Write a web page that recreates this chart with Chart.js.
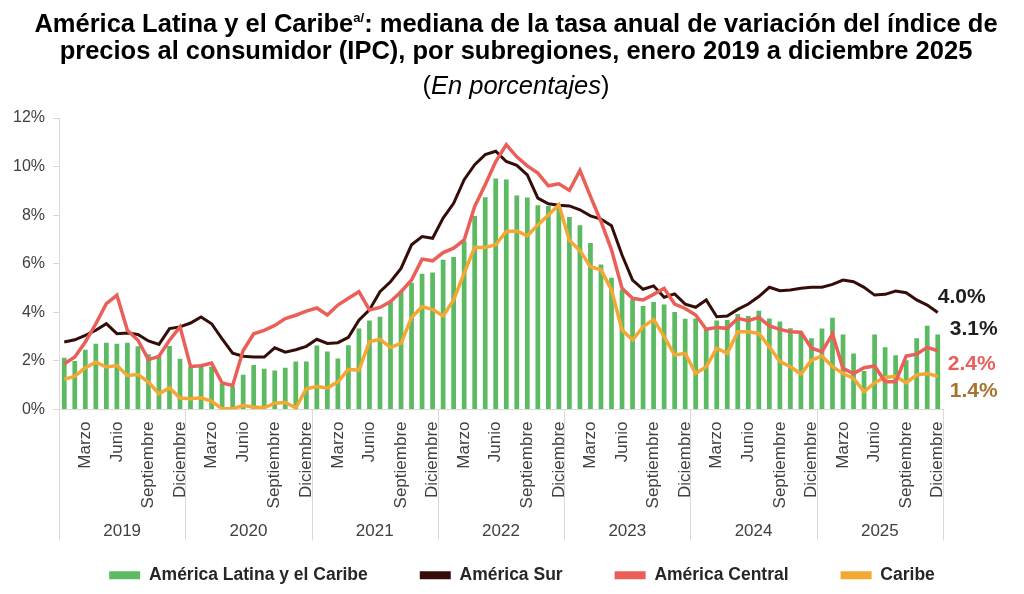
<!DOCTYPE html>
<html lang="es">
<head>
<meta charset="utf-8">
<title>IPC subregiones</title>
<script src="https://cdn.jsdelivr.net/npm/chart.js@4.4.1/dist/chart.umd.min.js"></script>
<style>
  html, body { margin:0; padding:0; background:#ffffff; }
  #wrap { position:relative; width:1024px; height:594px; overflow:hidden; font-family:"Liberation Sans", Arial, sans-serif; }
  #chart { position:absolute; left:0; top:0; }
  .t { position:absolute; left:4px; width:1024px; text-align:center; color:#000; font-size:25.5px; line-height:28px; white-space:nowrap; }
  .t1 { top:9px; font-weight:bold; }
  .t2 { top:36px; font-weight:bold; }
  .t3 { top:71px; color:#000; }
  sup { font-size:13px; line-height:0; vertical-align:0; position:relative; top:-10px; font-weight:bold; }
</style>
</head>
<body>
<div id="wrap">
  <canvas id="chart" width="1024" height="594"></canvas>
  <div class="t t1">América Latina y el Caribe<sup>a/</sup>: mediana de la tasa anual de variación del índice de</div>
  <div class="t t2">precios al consumidor (IPC), por subregiones, enero 2019 a diciembre 2025</div>
  <div class="t t3">(<i>En porcentajes</i>)</div>
</div>
<script>
// ---------- data ----------
const MONTHS = ['Enero','Febrero','Marzo','Abril','Mayo','Junio','Julio','Agosto','Septiembre','Octubre','Noviembre','Diciembre'];
const YEARS = ['2019','2020','2021','2022','2023','2024','2025'];
const TICK_MONTHS = ['Marzo','Junio','Septiembre','Diciembre'];
const Y_TICKS = [0, 2, 4, 6, 8, 10, 12];

const SERIES_NAMES = ['América Latina y el Caribe', 'América Sur', 'América Central', 'Caribe'];

const ALC = [
  2.13, 2.00, 2.46, 2.71, 2.75, 2.71, 2.75, 2.60, 2.27, 2.19, 2.61, 2.09,
  1.77, 1.83, 1.77, 1.06, 0.95, 1.43, 1.83, 1.68, 1.61, 1.72, 1.98, 1.98,
  2.63, 2.39, 2.10, 2.64, 3.33, 3.66, 3.82, 4.44, 4.89, 5.22, 5.59, 5.64,
  6.16, 6.28, 6.93, 7.97, 8.74, 9.51, 9.47, 8.81, 8.73, 8.41, 8.38, 8.43,
  7.92, 7.59, 6.85, 5.97, 5.42, 4.92, 4.54, 4.26, 4.43, 4.32, 4.01, 3.74,
  3.75, 3.30, 3.66, 3.68, 3.93, 3.85, 4.07, 3.75, 3.62, 3.34, 3.20, 2.93,
  3.33, 3.78, 3.09, 2.31, 1.59, 3.09, 2.56, 2.23, 2.03, 2.93, 3.45, 3.09
];
const SUR = [
  2.78, 2.87, 3.05, 3.26, 3.53, 3.12, 3.15, 3.09, 2.82, 2.68, 3.33, 3.40,
  3.56, 3.81, 3.53, 2.91, 2.32, 2.19, 2.16, 2.16, 2.54, 2.36, 2.46, 2.60,
  2.89, 2.72, 2.75, 2.97, 3.68, 4.10, 4.85, 5.26, 5.81, 6.78, 7.12, 7.05,
  7.88, 8.49, 9.46, 10.08, 10.49, 10.63, 10.21, 10.05, 9.66, 8.70, 8.47, 8.41,
  8.38, 8.22, 7.97, 7.84, 7.56, 6.36, 5.33, 4.95, 5.09, 4.62, 4.76, 4.34,
  4.21, 4.51, 3.82, 3.85, 4.12, 4.34, 4.65, 5.03, 4.89, 4.92, 4.99, 5.03,
  5.03, 5.15, 5.33, 5.26, 5.03, 4.71, 4.74, 4.88, 4.81, 4.51, 4.30, 3.99
];
const CENTRAL = [
  1.88, 2.16, 2.78, 3.53, 4.36, 4.70, 3.26, 2.85, 2.05, 2.19, 2.85, 3.40,
  1.77, 1.80, 1.91, 1.09, 0.99, 2.43, 3.12, 3.26, 3.46, 3.74, 3.88, 4.05,
  4.18, 3.89, 4.30, 4.58, 4.85, 4.10, 4.20, 4.44, 4.85, 5.33, 6.19, 6.12,
  6.46, 6.64, 6.98, 8.36, 9.25, 10.21, 10.90, 10.40, 10.03, 9.73, 9.21, 9.29,
  9.02, 9.84, 8.77, 7.74, 6.57, 4.99, 4.58, 4.51, 4.74, 4.99, 4.34, 4.16,
  3.89, 3.30, 3.38, 3.34, 3.75, 3.66, 3.79, 3.44, 3.30, 3.20, 3.18, 2.52,
  2.38, 3.11, 1.69, 1.48, 1.72, 1.79, 1.14, 1.14, 2.20, 2.28, 2.56, 2.42
];
const CARIBE = [
  1.25, 1.36, 1.72, 1.95, 1.75, 1.81, 1.40, 1.44, 1.13, 0.65, 0.89, 0.47,
  0.44, 0.48, 0.34, 0.03, 0.03, 0.16, 0.10, 0.07, 0.26, 0.29, 0.07, 0.85,
  0.95, 0.89, 1.14, 1.65, 1.62, 2.79, 2.89, 2.56, 2.72, 3.79, 4.23, 4.12,
  3.85, 4.51, 5.61, 6.68, 6.67, 6.78, 7.33, 7.35, 7.15, 7.60, 8.01, 8.43,
  6.96, 6.54, 5.88, 5.75, 4.92, 3.27, 2.86, 3.41, 3.71, 3.00, 2.24, 2.31,
  1.48, 1.76, 2.52, 2.31, 3.20, 3.20, 3.13, 2.58, 1.97, 1.76, 1.46, 2.03,
  2.20, 1.76, 1.48, 1.28, 0.73, 1.10, 1.32, 1.37, 1.10, 1.42, 1.48, 1.37
];

// ---------- derived ----------
const CATEGORIES = YEARS.flatMap(y => MONTHS.map(m => m + ' ' + y));

const COLORS = ['#5cba63', '#350d08', '#ea5f58', '#f4a833'];
const END_LABELS = [
  { ds: 1, dx: 0,  dy: -15, color: '#1f1f1f' },
  { ds: 0, dx: 12, dy: -5,  color: '#1f1f1f' },
  { ds: 2, dx: 10, dy: 13,  color: '#e8605a' },
  { ds: 3, dx: 12, dy: 15,  color: '#a8742c' }
];

Chart.defaults.font.family = '"Liberation Sans", Arial, sans-serif';
Chart.defaults.color = '#404040';

const legendShiftPlugin = {
  id: 'legendShift',
  afterLayout(chart) {
    if (chart.legend) { chart.legend.left += 10; chart.legend.right += 10; }
  }
};

const yearPlugin = {
  id: 'yearGroups',
  afterDraw(chart) {
    const xs = chart.scales.x, ca = chart.chartArea, ctx = chart.ctx;
    const step = (xs.right - xs.left) / CATEGORIES.length;
    ctx.save();
    ctx.strokeStyle = '#d9d9d9';
    ctx.lineWidth = 1;
    for (let k = 0; k <= YEARS.length; k++) {
      const bx = Math.round(xs.left + k * 12 * step) + 0.5;
      ctx.beginPath();
      ctx.moveTo(bx, ca.bottom);
      ctx.lineTo(bx, ca.bottom + 131);
      ctx.stroke();
    }
    ctx.fillStyle = '#404040';
    ctx.font = '17px "Liberation Sans", Arial, sans-serif';
    ctx.textAlign = 'center';
    ctx.textBaseline = 'middle';
    YEARS.forEach((y, k) => {
      const cx = xs.left + (k * 12 + 6) * step;
      ctx.fillText(y, cx, ca.bottom + 122);
    });
    ctx.restore();
  }
};

const endLabelPlugin = {
  id: 'endLabels',
  afterDatasetsDraw(chart) {
    const ctx = chart.ctx;
    ctx.save();
    ctx.font = 'bold 21px "Liberation Sans", Arial, sans-serif';
    ctx.textAlign = 'left';
    ctx.textBaseline = 'middle';
    END_LABELS.forEach(l => {
      const data = chart.data.datasets[l.ds].data;
      const last = data.length - 1;
      const x = chart.scales.x.getPixelForValue(last);
      const y = chart.scales.y.getPixelForValue(data[last]);
      ctx.fillStyle = l.color;
      ctx.fillText(data[last].toFixed(1) + '%', x + l.dx, y + l.dy);
    });
    ctx.restore();
  }
};

new Chart(document.getElementById('chart'), {
  type: 'bar',
  data: {
    labels: CATEGORIES,
    datasets: [
      { type: 'bar', label: SERIES_NAMES[0], data: ALC, backgroundColor: COLORS[0], borderWidth: 0,
        barPercentage: 0.45, categoryPercentage: 1.0, order: 10 },
      { type: 'line', label: SERIES_NAMES[1], data: SUR, borderColor: COLORS[1], backgroundColor: COLORS[1],
        borderWidth: 3, pointRadius: 0, tension: 0, fill: false, order: 3 },
      { type: 'line', label: SERIES_NAMES[2], data: CENTRAL, borderColor: COLORS[2], backgroundColor: COLORS[2],
        borderWidth: 3.5, pointRadius: 0, tension: 0, fill: false, order: 1 },
      { type: 'line', label: SERIES_NAMES[3], data: CARIBE, borderColor: COLORS[3], backgroundColor: COLORS[3],
        borderWidth: 3.5, pointRadius: 0, tension: 0, fill: false, order: 2 }
    ]
  },
  options: {
    responsive: false,
    animation: false,
    devicePixelRatio: 1,
    layout: { padding: { top: 118, right: 0, bottom: 0, left: 0 } },
    plugins: {
      title: { display: false },
      tooltip: { enabled: false },
      legend: {
        position: 'bottom',
        labels: {
          boxWidth: 31,
          boxHeight: 8,
          padding: 52,
          color: '#262626',
          font: { size: 17.5, weight: 'bold' },
          sort: (a, b) => a.datasetIndex - b.datasetIndex,
          generateLabels(chart) {
            const items = Chart.defaults.plugins.legend.labels.generateLabels(chart);
            items.forEach(it => {
              const c = COLORS[it.datasetIndex];
              it.fillStyle = c; it.strokeStyle = c; it.lineWidth = 0;
            });
            return items;
          }
        }
      }
    },
    scales: {
      x: {
        type: 'category',
        offset: true,
        grid: { display: false, drawTicks: false },
        border: { display: true, color: '#d9d9d9' },
        ticks: {
          autoSkip: false,
          maxRotation: 90,
          minRotation: 90,
          padding: 12,
          color: '#404040',
          font: { size: 17 },
          callback: function(value, index) {
            const m = MONTHS[index % 12];
            return TICK_MONTHS.includes(m) ? m : '';
          }
        },
        afterFit(scale) { scale.height = 105; }
      },
      y: {
        min: Y_TICKS[0],
        max: Y_TICKS[Y_TICKS.length - 1],
        grid: { display: true, drawOnChartArea: false, drawTicks: true, tickLength: 6, color: '#d9d9d9' },
        border: { display: true, color: '#d9d9d9' },
        afterBuildTicks(scale) { scale.ticks = Y_TICKS.map(v => ({ value: v })); },
        ticks: {
          padding: 8,
          color: '#404040',
          font: { size: 16 },
          callback: v => v + '%'
        },
        afterFit(scale) { scale.width = 59; }
      },
      yRight: {
        position: 'right',
        min: Y_TICKS[0],
        max: Y_TICKS[Y_TICKS.length - 1],
        grid: { display: false },
        border: { display: false },
        ticks: { display: false },
        afterFit(scale) { scale.width = 81; }
      }
    }
  },
  plugins: [legendShiftPlugin, yearPlugin, endLabelPlugin]
});
</script>
</body>
</html>
